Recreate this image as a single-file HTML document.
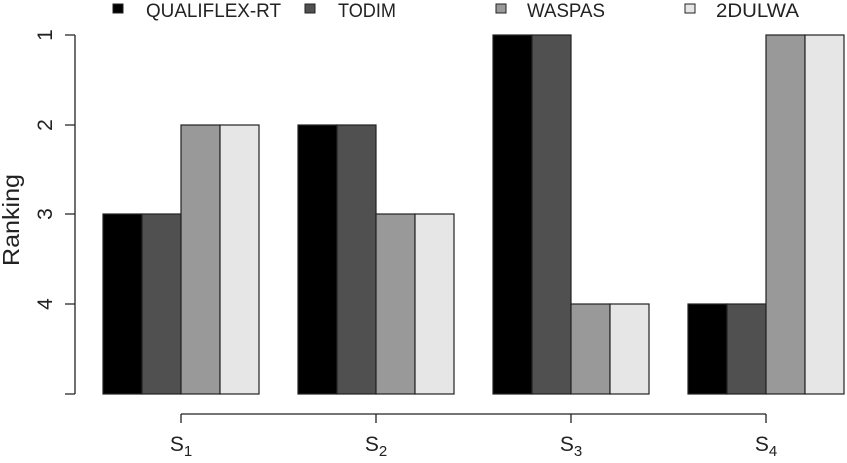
<!DOCTYPE html><html><head><style>body{margin:0;background:#fff}</style></head><body>
<svg width="847" height="458" viewBox="0 0 847 458" xmlns="http://www.w3.org/2000/svg" font-family="Liberation Sans, sans-serif">
<g stroke="#222" stroke-width="1.2">
<rect x="103" y="214" width="39" height="180" fill="#000"/><rect x="142" y="214" width="39" height="180" fill="#505050"/><rect x="181" y="125" width="39" height="269" fill="#999"/><rect x="220" y="125" width="39" height="269" fill="#e6e6e6"/>
<rect x="298" y="125" width="39" height="269" fill="#000"/><rect x="337" y="125" width="39" height="269" fill="#505050"/><rect x="376" y="214" width="39" height="180" fill="#999"/><rect x="415" y="214" width="39" height="180" fill="#e6e6e6"/>
<rect x="493" y="35" width="39" height="359" fill="#000"/><rect x="532" y="35" width="39" height="359" fill="#505050"/><rect x="571" y="304" width="39" height="90" fill="#999"/><rect x="610" y="304" width="39" height="90" fill="#e6e6e6"/>
<rect x="688" y="304" width="39" height="90" fill="#000"/><rect x="727" y="304" width="39" height="90" fill="#505050"/><rect x="766" y="35" width="39" height="359" fill="#999"/><rect x="805" y="35" width="39" height="359" fill="#e6e6e6"/>
</g>
<g stroke="#222" stroke-width="1.3" fill="none">
<path d="M75 35V394M65 35H75M65 125H75M65 214H75M65 304H75M65 394H75"/>
<path d="M181 414H766M181 414V423M376 414V423M571 414V423M766 414V423"/>
</g>
<g font-size="21" fill="#222" text-anchor="middle">
<text transform="translate(52,35) rotate(-90)">1</text>
<text transform="translate(52,125) rotate(-90)">2</text>
<text transform="translate(52,214) rotate(-90)">3</text>
<text transform="translate(52,304) rotate(-90)">4</text>
<text transform="translate(19,220) rotate(-90)" font-size="23" textLength="92" lengthAdjust="spacingAndGlyphs">Ranking</text>
<text x="181" y="451">S<tspan font-size="15" dy="5">1</tspan></text>
<text x="376" y="451">S<tspan font-size="15" dy="5">2</tspan></text>
<text x="571" y="451">S<tspan font-size="15" dy="5">3</tspan></text>
<text x="766" y="451">S<tspan font-size="15" dy="5">4</tspan></text>
</g>
<g stroke="#222" stroke-width="1">
<rect x="113" y="4" width="10" height="9" fill="#000"/><rect x="305" y="4" width="10" height="9" fill="#505050"/><rect x="496" y="4" width="10" height="9" fill="#999"/><rect x="685" y="4" width="10" height="9" fill="#e6e6e6"/>
</g>
<g font-size="19" fill="#222">
<text x="146" y="17" textLength="135" lengthAdjust="spacingAndGlyphs">QUALIFLEX-RT</text><text x="338" y="17" textLength="58" lengthAdjust="spacingAndGlyphs">TODIM</text><text x="527" y="17" textLength="78" lengthAdjust="spacingAndGlyphs">WASPAS</text><text x="716" y="17" textLength="83" lengthAdjust="spacingAndGlyphs">2DULWA</text>
</g>
</svg></body></html>
